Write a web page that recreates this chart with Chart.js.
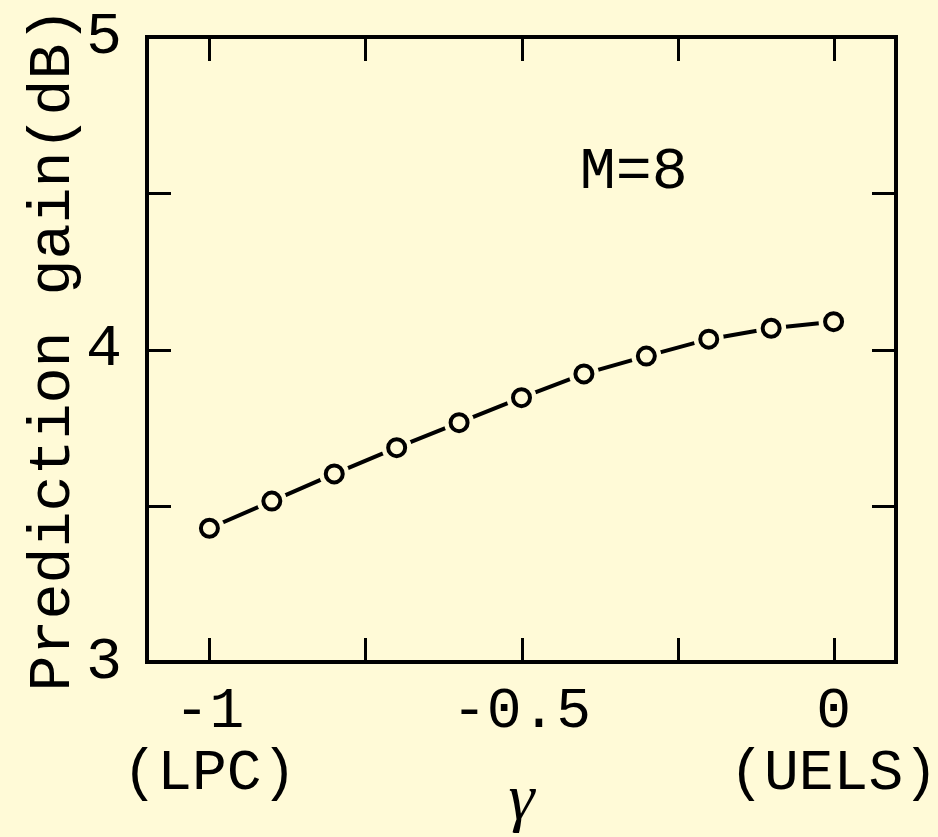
<!DOCTYPE html>
<html>
<head>
<meta charset="utf-8">
<script src="https://cdn.jsdelivr.net/npm/chart.js@4.4.0/dist/chart.umd.min.js"></script>
<style>
  html, body { margin: 0; padding: 0; background: #fffad7; }
  #wrap { width: 938px; height: 837px; }
</style>
</head>
<body>
<div id="wrap"><canvas id="gainChart" width="938" height="837"></canvas></div>
<script>
// data
const gammaValues = [-1, -0.9, -0.8, -0.7, -0.6, -0.5, -0.4, -0.3, -0.2, -0.1, 0];
const gainValues = [3.428, 3.515, 3.602, 3.686, 3.766, 3.846, 3.922, 3.979, 4.033, 4.068, 4.089];
const xTickValues = [-1, -0.75, -0.5, -0.25, 0];
const xTickLabels = [["-1", "(LPC)"], "", ["-0.5"], "", ["0", "(UELS)"]];
const yTickValues = [3, 3.5, 4, 4.5, 5];
const yTickLabels = ["3", "", "4", "", "5"];
const noteText = "M=8";

const BG = "#fffad7";
const MONO = "'Courier New', 'Liberation Mono', monospace";

const points = gammaValues.map((g, i) => ({ x: g, y: gainValues[i] }));

// frame + inward tick marks on all four sides, plus the M=8 note
const framePlugin = {
  id: "frame",
  afterDatasetsDraw(chart) {
    const { ctx, chartArea: a, scales } = chart;
    const len = 24;
    ctx.save();
    ctx.strokeStyle = "#000";
    ctx.lineWidth = 3;
    scales.x.ticks.forEach(t => {
      const px = Math.round(scales.x.getPixelForValue(t.value)) + 0.5;
      ctx.beginPath();
      ctx.moveTo(px, a.bottom); ctx.lineTo(px, a.bottom - len);
      ctx.moveTo(px, a.top); ctx.lineTo(px, a.top + len);
      ctx.stroke();
    });
    scales.y.ticks.forEach(t => {
      const py = Math.round(scales.y.getPixelForValue(t.value)) + 0.5;
      ctx.beginPath();
      ctx.moveTo(a.left, py); ctx.lineTo(a.left + len, py);
      ctx.moveTo(a.right, py); ctx.lineTo(a.right - len, py);
      ctx.stroke();
    });
    ctx.lineWidth = 4;
    ctx.strokeRect(a.left, a.top, a.right - a.left, a.bottom - a.top);

    ctx.fillStyle = "#000";
    ctx.font = "60px " + MONO;
    ctx.textAlign = "center";
    ctx.textBaseline = "middle";
    ctx.fillText(noteText, scales.x.getPixelForValue(-0.32), scales.y.getPixelForValue(4.568));
    ctx.restore();
  }
};

new Chart(document.getElementById("gainChart").getContext("2d"), {
  type: "line",
  data: {
    datasets: [
      {
        // open circle markers
        data: points,
        showLine: false,
        pointRadius: 8.5,
        pointBorderWidth: 4,
        pointBorderColor: "#000",
        pointBackgroundColor: BG,
      },
      {
        // connecting line, cut back around each marker
        data: points,
        borderColor: "#000",
        borderWidth: 4,
        tension: 0,
        pointRadius: 15,
        pointBorderWidth: 0,
        pointBorderColor: BG,
        pointBackgroundColor: BG,
      },
    ],
  },
  options: {
    responsive: false,
    animation: false,
    events: [],
    layout: { padding: { top: 37, right: 42, left: 0, bottom: 0 } },
    plugins: { legend: { display: false }, tooltip: { enabled: false } },
    scales: {
      x: {
        type: "linear",
        min: -1.1,
        max: 0.1,
        afterBuildTicks: s => { s.ticks = xTickValues.map(v => ({ value: v })); },
        afterFit: s => { s.height = 175; s.paddingLeft = 0; s.paddingRight = 0; },
        grid: { display: false, drawTicks: false },
        border: { display: false },
        ticks: {
          padding: 18,
          color: "#000",
          font: { family: MONO, size: 58, lineHeight: 1.08 },
          maxRotation: 0,
          autoSkip: false,
          callback: (v, i) => xTickLabels[i],
        },
        title: {
          display: true,
          text: "γ",
          color: "#000",
          font: { family: "'Liberation Serif', 'DejaVu Serif', serif", style: "italic", size: 66, lineHeight: 1 },
          padding: { top: 0, bottom: 2 },
        },
      },
      y: {
        type: "linear",
        min: 3,
        max: 5,
        afterBuildTicks: s => { s.ticks = yTickValues.map(v => ({ value: v })); },
        afterFit: s => { s.width = 147; s.paddingTop = 0; s.paddingBottom = 0; },
        grid: { display: false, drawTicks: false },
        border: { display: false },
        ticks: {
          padding: 25,
          color: "#000",
          font: { family: MONO, size: 60 },
          autoSkip: false,
          callback: (v, i) => yTickLabels[i],
        },
        title: {
          display: true,
          text: "Prediction gain(dB)",
          color: "#000",
          font: { family: MONO, size: 60, lineHeight: 1 },
          padding: { top: 23, bottom: 0 },
        },
      },
    },
  },
  plugins: [framePlugin],
});
</script>
</body>
</html>
